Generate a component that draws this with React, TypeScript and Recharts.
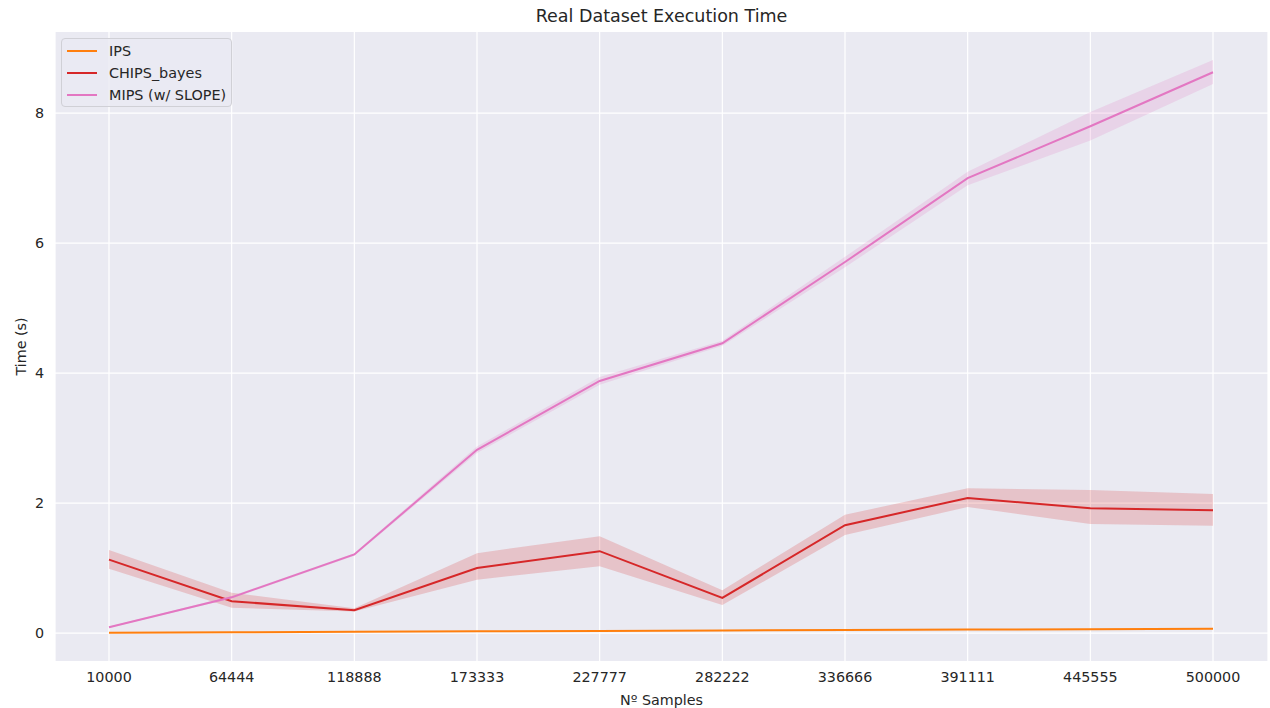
import { ComposedChart, Line, Area, XAxis, YAxis, CartesianGrid } from "recharts";

const samples = ["10000", "64444", "118888", "173333", "227777", "282222", "336666", "391111", "445555", "500000"];

const ipsMean = [0.005, 0.012, 0.019, 0.026, 0.033, 0.04, 0.047, 0.053, 0.06, 0.067];
const ipsLow = [0.003, 0.01, 0.017, 0.023, 0.03, 0.037, 0.043, 0.049, 0.055, 0.061];
const ipsHigh = [0.007, 0.014, 0.021, 0.029, 0.036, 0.043, 0.051, 0.057, 0.065, 0.073];

const chipsMean = [1.13, 0.49, 0.35, 1.0, 1.26, 0.54, 1.66, 2.08, 1.92, 1.89];
const chipsLow = [0.99, 0.39, 0.33, 0.82, 1.03, 0.43, 1.51, 1.94, 1.68, 1.65];
const chipsHigh = [1.28, 0.62, 0.38, 1.23, 1.49, 0.66, 1.82, 2.23, 2.2, 2.14];

const mipsMean = [0.09, 0.55, 1.21, 2.82, 3.88, 4.46, 5.71, 7.0, 7.8, 8.63];
const mipsLow = [0.08, 0.53, 1.19, 2.77, 3.82, 4.42, 5.63, 6.89, 7.58, 8.45];
const mipsHigh = [0.1, 0.57, 1.23, 2.87, 3.94, 4.5, 5.79, 7.1, 8.02, 8.82];

const yTicks = [0, 2, 4, 6, 8];

const SERIES = [
    { key: "ips", label: "IPS", color: "#ff7f0e" },
    { key: "chips", label: "CHIPS_bayes", color: "#d62728" },
    { key: "mips", label: "MIPS (w/ SLOPE)", color: "#e377c2" },
];

const data = samples.map((s, i) => ({
    name: s,
    ips: ipsMean[i],
    ipsBand: [ipsLow[i], ipsHigh[i]],
    chips: chipsMean[i],
    chipsBand: [chipsLow[i], chipsHigh[i]],
    mips: mipsMean[i],
    mipsBand: [mipsLow[i], mipsHigh[i]],
}));

const FONT = "'DejaVu Sans', sans-serif";
const TEXT = "#262626";

// legend drawn by hand: only the three lines, no band swatches
function LegendBox() {
    return (
        <div style={{
            position: "absolute",
            left: 61,
            top: 38,
            width: 171,
            height: 69,
            background: "rgba(234,234,242,0.8)",
            border: "1px solid #d0d0d6",
            borderRadius: 4,
            fontFamily: FONT,
            fontSize: 14.4,
            color: TEXT,
            paddingTop: 1,
            boxSizing: "border-box",
        }}>
            {SERIES.map((s) => (
                <div key={s.key} style={{ display: "flex", alignItems: "center", height: 22 }}>
                    <div style={{ width: 30, height: 2, background: s.color, marginLeft: 5, marginRight: 12 }} />
                    <span>{s.label}</span>
                </div>
            ))}
        </div>
    );
}

export default function App() {
    return (
        <div style={{ position: "absolute", left: 0, top: 0, width: 1270, height: 708, background: "#fff" }}>
            <div style={{
                position: "absolute", left: 55, width: 1213, top: 6, textAlign: "center",
                fontFamily: FONT, fontSize: 17.5, color: TEXT,
            }}>
                Real Dataset Execution Time
            </div>
            <ComposedChart width={1270} height={708} data={data}
                margin={{ top: 32, right: 2, left: 0, bottom: 0 }}>
                <CartesianGrid fill="#eaeaf2" stroke="#ffffff" strokeWidth={1.2} horizontalValues={yTicks} />
                <XAxis dataKey="name"
                    padding={{ left: 54, right: 55 }}
                    tickLine={false}
                    axisLine={false}
                    tickSize={0}
                    tickMargin={11}
                    height={47}
                    interval={0}
                    tick={{ fill: TEXT, fontSize: 14.3, fontFamily: FONT }}
                    label={{ value: "Nº Samples", position: "insideBottom", offset: 3, fill: TEXT, fontSize: 14.3, fontFamily: FONT }}
                />
                <YAxis type="number"
                    domain={[-0.43, 9.25]}
                    allowDataOverflow
                    ticks={yTicks}
                    tickLine={false}
                    axisLine={false}
                    tickSize={0}
                    tickMargin={11}
                    width={55}
                    tick={{ fill: TEXT, fontSize: 14.3, fontFamily: FONT }}
                    label={{ value: "Time (s)", angle: -90, position: "insideLeft", offset: 21, fill: TEXT, fontSize: 14.3, fontFamily: FONT, style: { textAnchor: "middle" } }}
                />
                {SERIES.map((s) => (
                    <Area key={s.key + "Band"} dataKey={s.key + "Band"} type="linear"
                        stroke="none" fill={s.color} fillOpacity={0.2}
                        isAnimationActive={false} legendType="none" activeDot={false} />
                ))}
                {SERIES.map((s) => (
                    <Line key={s.key} dataKey={s.key} type="linear" name={s.label}
                        stroke={s.color} strokeWidth={2} dot={false}
                        isAnimationActive={false} activeDot={false} />
                ))}
            </ComposedChart>
            <LegendBox />
        </div>
    );
}
